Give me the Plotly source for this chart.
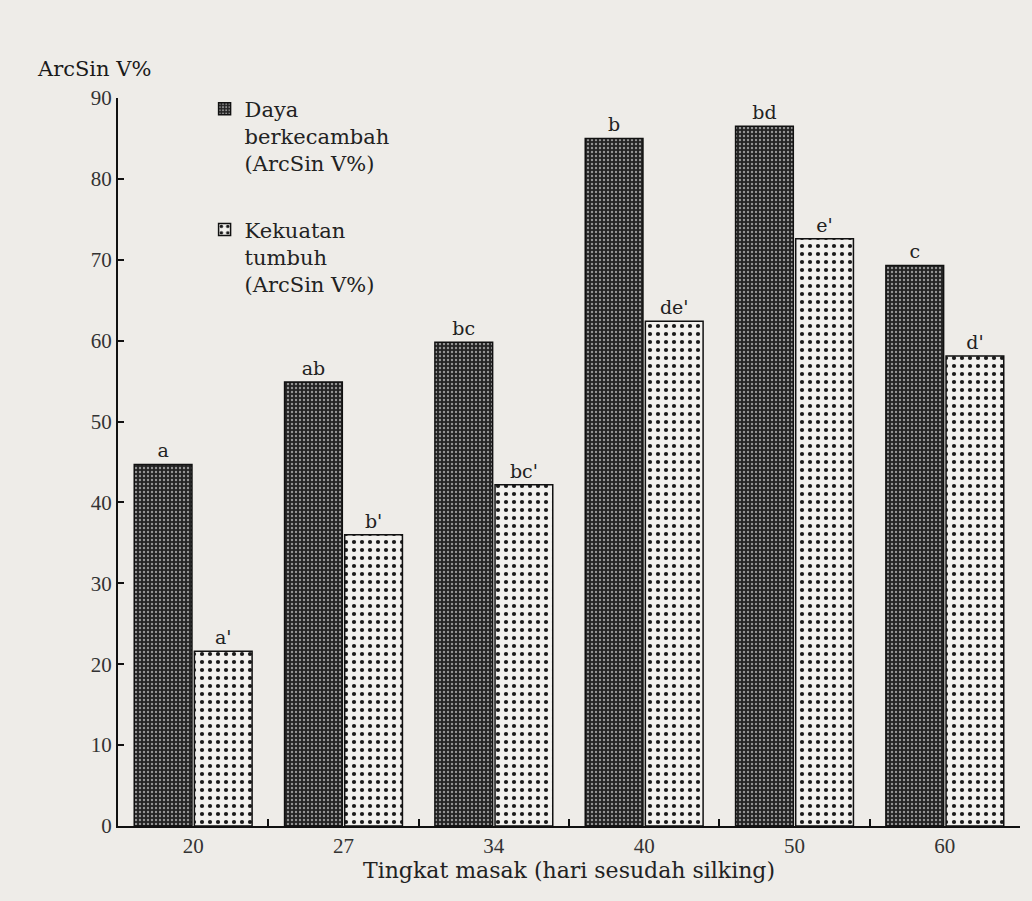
import plotly.graph_objects as go

categories = ["20", "27", "34", "40", "50", "60"]
daya_values = [44.7, 54.9, 59.8, 85.0, 86.5, 69.3]
kekuatan_values = [21.6, 36.0, 42.2, 62.4, 72.6, 58.1]
daya_labels = ["a", "ab", "bc", "b", "bd", "c"]
kekuatan_labels = ["a'", "b'", "bc'", "de'", "e'", "d'"]
y_ticks = [0, 10, 20, 30, 40, 50, 60, 70, 80, 90]

SERIF = "DejaVu Serif"
TICKF = "Liberation Serif"
BG = "#eeece8"

fig = go.Figure()
fig.add_trace(go.Bar(
    x=categories, y=daya_values, name="Daya<br>berkecambah<br>(ArcSin V%)",
    text=daya_labels, textposition="outside",
    textfont=dict(family=SERIF, size=19, color="#222"),
    marker=dict(color="#232323", line=dict(color="#111", width=1.5),
                pattern=dict(shape=".", fgcolor="#959595", bgcolor="#232323",
                             size=4, solidity=0.28, fillmode="replace")),
    legendgroup="g1", cliponaxis=False,
))
fig.add_trace(go.Bar(
    x=categories, y=kekuatan_values, name="Kekuatan<br>tumbuh<br>(ArcSin V%)",
    text=kekuatan_labels, textposition="outside",
    textfont=dict(family=SERIF, size=19, color="#222"),
    marker=dict(color="#f2f1ee", line=dict(color="#111", width=1.5),
                pattern=dict(shape=".", fgcolor="#1a1a1a", bgcolor="#f2f1ee",
                             size=8, solidity=0.22, fillmode="replace")),
    legendgroup="g2", cliponaxis=False,
))

fig.update_layout(
    width=1032, height=901,
    paper_bgcolor=BG, plot_bgcolor=BG,
    margin=dict(l=118, r=12, t=98, b=75),
    barmode="group", bargap=0.2, bargroupgap=0.04,
    font=dict(family=SERIF, color="#222"),
    showlegend=True,
    legend=dict(x=0.096, y=1.013, xanchor="left", yanchor="top",
                bgcolor="rgba(0,0,0,0)", font=dict(family=SERIF, size=21, color="#222"),
                tracegroupgap=36, valign="top", traceorder="grouped"),
    xaxis=dict(type="category", range=[-0.5, 5.5], showline=True, linecolor="#111",
               linewidth=2, ticks="inside", tickson="boundaries", ticklen=7,
               tickcolor="#111", tickwidth=2, showgrid=False,
               tickfont=dict(family=TICKF, size=21, color="#333"),
               title=dict(text="Tingkat masak (hari sesudah silking)",
                          font=dict(family=SERIF, size=22, color="#222"), standoff=2)),
    yaxis=dict(range=[0, 90], tickvals=y_ticks, showline=True, linecolor="#111",
               linewidth=2, ticks="inside", ticklen=6, tickcolor="#111", tickwidth=2,
               showgrid=False, zeroline=False,
               tickfont=dict(family=TICKF, size=21, color="#333")),
    annotations=[dict(text="ArcSin V%", xref="paper", yref="paper", x=-0.092, y=1.04,
                      xanchor="left", yanchor="middle", showarrow=False,
                      font=dict(family=SERIF, size=21, color="#1a1a1a"))],
)

fig.write_html(
    "out.html",
    config={"displayModeBar": False},
    post_script="document.body.style.margin='0';document.body.style.background='#eeece8';",
)
